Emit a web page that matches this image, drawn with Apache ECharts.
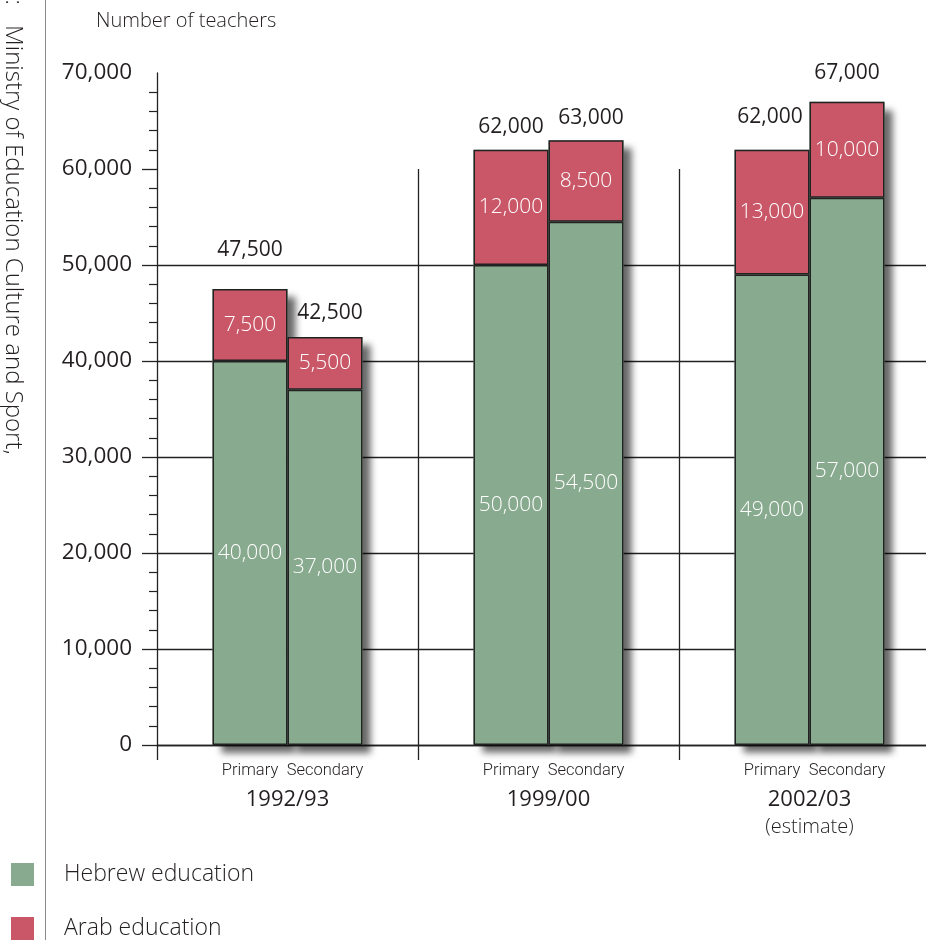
<!DOCTYPE html>
<html>
<head>
<meta charset="utf-8">
<title>Number of teachers</title>
<script src="https://cdn.jsdelivr.net/npm/echarts@6/dist/echarts.min.js"></script>
<style>
  html, body { margin: 0; padding: 0; background: #fff; overflow: hidden; }
  /* the last column runs a little past the right edge of the page */
  #chart { width: 940px; height: 940px; }
</style>
</head>
<body>
<div id="chart"></div>
<script>
// School years and their notes
const years = ['1992/93', '1999/00', '2002/03'];
const yearNotes = ['', '', '(estimate)'];
const levels = ['Primary', 'Secondary'];

// Teachers by sector and level
const hebrewPrimary = [40000, 50000, 49000];
const arabPrimary = [7500, 12000, 13000];
const hebrewSecondary = [37000, 54500, 57000];
const arabSecondary = [5500, 8500, 10000];

// Value-axis ticks
const yMax = 70000;
const yStep = 10000;
const yMajorTicks = [0, 10000, 20000, 30000, 40000, 50000, 60000];

const GREEN = '#88aa8e';
const RED = '#c95768';
const INK = '#231f20';
const FONT = '"Open Sans", "Noto Sans", sans-serif';

const fmt = v => Number(v).toLocaleString('en-US');
const primaryTotals = hebrewPrimary.map((v, i) => v + arabPrimary[i]);
const secondaryTotals = hebrewSecondary.map((v, i) => v + arabSecondary[i]);

// small nudges for the total labels above each column
const primaryTotalNudge = [[0, -16], [0, 0], [-2, -10]];
const secondaryTotalNudge = [[5, -1], [5, 0], [0, -6]];

const BAR_W = 75;
const barBorder = { borderColor: '#222', borderWidth: 1.5 };
const innerLabel = {
  show: true, position: 'inside', color: '#fff',
  fontFamily: FONT, fontSize: 21, fontWeight: 300,
  formatter: p => fmt(p.value)
};

function stackPart(name, stack, data, color) {
  return {
    name, type: 'bar', stack, data,
    xAxisIndex: 0, yAxisIndex: 0,
    barWidth: BAR_W, barGap: '0%',
    itemStyle: Object.assign({ color }, barBorder),
    label: innerLabel,
    z: 3
  };
}

function shadowColumn(name, totals, nudges) {
  return {
    name, type: 'bar', data: totals.map((v, i) => ({ value: v, label: { offset: nudges[i] } })),
    xAxisIndex: 1, yAxisIndex: 0,
    barWidth: BAR_W, barGap: '0%',
    silent: true,
    itemStyle: {
      color: GREEN,
      shadowBlur: 7, shadowOffsetX: 8, shadowOffsetY: 8,
      shadowColor: 'rgba(0,0,0,0.6)'
    },
    label: {
      show: true, position: 'top', distance: 12,
      color: INK, fontFamily: FONT, fontSize: 21,
      formatter: p => fmt(p.value)
    },
    z: 1
  };
}

const chart = echarts.init(document.getElementById('chart'), null, { renderer: 'canvas' });

chart.setOption({
  animation: false,
  backgroundColor: '#fff',
  textStyle: { fontFamily: FONT },
  title: {
    text: 'Number of teachers',
    left: 96, top: 11, padding: 0,
    textStyle: { fontFamily: FONT, fontSize: 20, fontWeight: 300, color: INK }
  },
  legend: {
    data: ['Hebrew education', 'Arab education'],
    orient: 'vertical', left: 11, top: 863, padding: 0,
    icon: 'rect', itemWidth: 23, itemHeight: 23, itemGap: 31,
    itemStyle: { borderWidth: 0 },
    selectedMode: false,
    textStyle: { fontFamily: FONT, fontSize: 23, fontWeight: 300, color: INK, padding: [0, 0, 0, 25] }
  },
  grid: { left: 157, top: 73, right: 0, bottom: 195, containLabel: false },
  xAxis: [
    {
      type: 'category', data: years,
      axisLine: { show: true, lineStyle: { color: '#222', width: 1.3 } },
      axisTick: { show: true, length: 15, interval: 0, alignWithLabel: false, lineStyle: { color: '#222', width: 1.3 } },
      splitLine: { show: false },
      axisLabel: {
        interval: 0, margin: 15,
        formatter: (v, i) => {
          let s = '{p|' + levels[0] + '}{s|' + levels[1] + '}\n{y|' + v + '}';
          if (yearNotes[i]) s += '\n{e|' + yearNotes[i] + '}';
          return s;
        },
        rich: {
          p: { width: BAR_W, align: 'center', fontFamily: 'Roboto, sans-serif', fontSize: 16.5, fontWeight: 300, color: INK, lineHeight: 22 },
          s: { width: BAR_W, align: 'center', fontFamily: 'Roboto, sans-serif', fontSize: 16.5, fontWeight: 300, color: INK, lineHeight: 22 },
          y: { fontFamily: FONT, fontSize: 22, color: INK, lineHeight: 35, align: 'center' },
          e: { fontFamily: FONT, fontSize: 20, fontWeight: 300, color: INK, lineHeight: 20, align: 'center' }
        }
      }
    },
    { type: 'category', data: years, show: false },
    { type: 'value', min: 0, max: years.length, show: false }
  ],
  yAxis: {
    type: 'value', min: 0, max: yMax, interval: yStep,
    axisLine: { show: true, lineStyle: { color: '#222', width: 1.3 } },
    axisTick: { show: true, length: 15, customValues: yMajorTicks, lineStyle: { color: '#222', width: 1.3 } },
    minorTick: { show: true, splitNumber: 5, length: 8, lineStyle: { color: '#222', width: 1.2 } },
    splitLine: {
      show: true, showMaxLine: false,
      lineStyle: { color: ['#222', '#222', '#222', '#222', '#222', '#222', '#222', 'rgba(0,0,0,0)'], width: 1.3 }
    },
    axisLabel: {
      margin: 25, color: INK, fontFamily: FONT, fontSize: 22.5,
      formatter: v => fmt(v)
    }
  },
  series: [
    shadowColumn('Primary total', primaryTotals, primaryTotalNudge),
    shadowColumn('Secondary total', secondaryTotals, secondaryTotalNudge),
    stackPart('Hebrew education', 'primary', hebrewPrimary, GREEN),
    stackPart('Arab education', 'primary', arabPrimary, RED),
    stackPart('Hebrew education', 'secondary', hebrewSecondary, GREEN),
    stackPart('Arab education', 'secondary', arabSecondary, RED),
    {
      // dividers between the school years
      name: 'dividers', type: 'line', data: [],
      xAxisIndex: 2, yAxisIndex: 0, silent: true,
      markLine: {
        silent: true, symbol: 'none', label: { show: false },
        lineStyle: { color: '#222', width: 1.3, type: 'solid' },
        data: [1, 2].map(x => [{ coord: [x, 60000] }, { coord: [x, 0] }])
      },
      z: 0
    }
  ],
  graphic: [
    { type: 'line', shape: { x1: 45.5, y1: 0, x2: 45.5, y2: 940 }, style: { stroke: '#8a8a8a', lineWidth: 1 }, silent: true },
    {
      type: 'text', x: 13, y: 5, rotation: -Math.PI / 2, silent: true,
      style: { text: 'Source:', fill: INK, font: '300 24px ' + FONT, textAlign: 'right', textVerticalAlign: 'middle' }
    },
    {
      type: 'text', x: 13, y: 25, rotation: -Math.PI / 2, silent: true,
      style: { text: 'Ministry of Education Culture and Sport,', fill: INK, font: '300 24px ' + FONT, textAlign: 'left', textVerticalAlign: 'middle' }
    }
  ]
});
</script>
</body>
</html>
